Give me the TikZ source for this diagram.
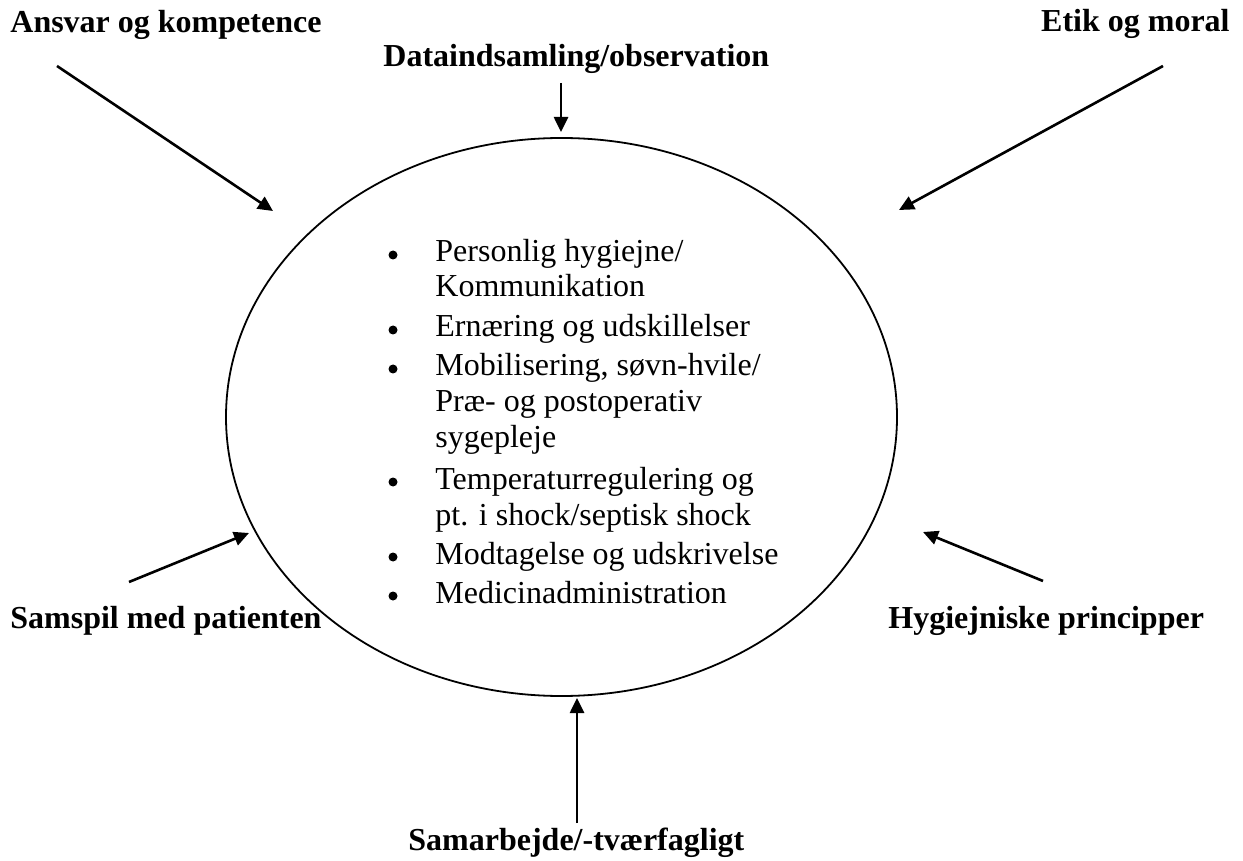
\documentclass[tikz,border=0pt]{standalone}
\usepackage{fontspec}
\setmainfont{Liberation Serif}
\usetikzlibrary{arrows.meta,shapes.geometric}
\begin{document}
\begin{tikzpicture}[x=0.5pt,y=-0.5pt,
  lbl/.style={font=\fontsize{16}{19}\selectfont\bfseries, inner sep=0pt},
  item/.style={font=\fontsize{16}{19}\selectfont, inner sep=0pt, anchor=base west},
  arr/.style={line width=1.3pt, -{Triangle[length=7.5pt,width=7pt]}},
  bul/.style={circle, fill, inner sep=0pt, minimum size=4.5pt}]
\useasboundingbox (0,0) rectangle (1243,861);
\node[draw, ellipse, line width=0.9pt, minimum width=335.5pt, minimum height=279pt, inner sep=0pt, outer sep=0pt] (ell) at (561.5,417) {};

% labels
\node[lbl, anchor=base west] (ansvar) at (10,33) {Ansvar og kompetence};
\node[lbl, anchor=base east] (etik) at (1230,32) {Etik og moral};
\node[lbl, anchor=base west] (data) at (383,67) {Dataindsamling/observation};
\node[lbl, anchor=base west] (samspil) at (10,628) {Samspil med patienten};
\node[lbl, anchor=base west] (hyg) at (888,628) {Hygiejniske principper};
\node[lbl, anchor=base west] (samarb) at (408,850) {Samarbejde/-tværfagligt};

% arrow endpoints
\coordinate (a1s) at (57,66);   \coordinate (a1e) at (273,211);
\coordinate (a2s) at (1163,66); \coordinate (a2e) at (899,210);
\coordinate (a3s) at (561,83);  \coordinate (a3e) at (561,132);
\coordinate (a4s) at (129,582); \coordinate (a4e) at (249,533);
\coordinate (a5s) at (1043,581);\coordinate (a5e) at (923,532);
\coordinate (a6s) at (577,823); \coordinate (a6e) at (577,698);

\draw[arr] (a1s) -- (a1e);
\draw[arr] (a2s) -- (a2e);
\draw[arr] (a3s) -- (a3e);
\draw[arr] (a4s) -- (a4e);
\draw[arr] (a5s) -- (a5e);
\draw[arr] (a6s) -- (a6e);

% list
\node[bul] (b1) at (393,255) {};
\node[item] (t1a) at (435,262) {Personlig hygiejne/};
\node[item] (t1b) at (435,297) {Kommunikation};
\node[bul] (b2) at (393,330) {};
\node[item] (t2) at (435,337) {Ernæring og udskillelser};
\node[bul] (b3) at (393,369) {};
\node[item] (t3a) at (435,376) {Mobilisering, søvn-hvile/};
\node[item] (t3b) at (435,412) {Præ- og postoperativ};
\node[item] (t3c) at (435,447) {sygepleje};
\node[bul] (b4) at (393,482) {};
\node[item] (t4a) at (435,489) {Temperaturregulering og};
\node[item] (t4b) at (435,525) {pt. i shock/septisk shock};
\node[bul] (b5) at (393,557) {};
\node[item] (t5) at (435,564) {Modtagelse og udskrivelse};
\node[bul] (b6) at (393,596) {};
\node[item] (t6) at (435,603) {Medicinadministration};
\end{tikzpicture}
\end{document}
